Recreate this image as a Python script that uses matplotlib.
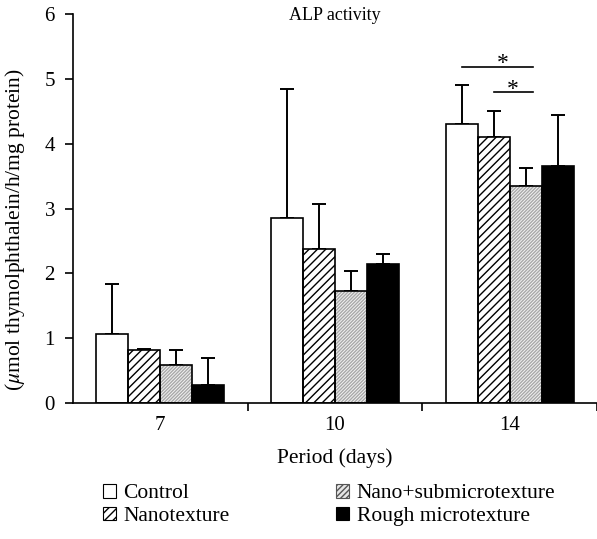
import numpy as np
import matplotlib
matplotlib.use("Agg")
import matplotlib.pyplot as plt
from matplotlib.patches import Patch

plt.rcParams['font.family'] = ['Liberation Serif', 'DejaVu Serif']
plt.rcParams['mathtext.fontset'] = 'stix'
plt.rcParams['hatch.linewidth'] = 1.0

periods = ['7', '10', '14']
groups = ['Control', 'Nanotexture', 'Nano+submicrotexture', 'Rough microtexture']

# mean values per group, one entry per period
control = [1.07, 2.86, 4.31]
nano = [0.82, 2.37, 4.11]
nanosub = [0.58, 1.73, 3.35]
rough = [0.28, 2.14, 3.66]

# upper error bar length
control_err = [0.76, 1.98, 0.60]
nano_err = [0.02, 0.70, 0.40]
nanosub_err = [0.24, 0.31, 0.28]
rough_err = [0.41, 0.16, 0.78]

# significance brackets: (period index, first bar, last bar, height)
sig = [(2, 0, 2, 5.19), (2, 1, 2, 4.79)]

means = [control, nano, nanosub, rough]
errs = [control_err, nano_err, nanosub_err, rough_err]
faces = ['white', 'white', '#f2f2f2', 'black']
hatches = [None, '////', '//////////', None]
hatch_cols = ['black', 'black', '#a8a8a8', 'black']

fig = plt.figure(figsize=(5.97, 5.39), dpi=100)
ax = fig.add_axes([73 / 597, 1 - 403 / 539, 524 / 597, 389 / 539])

x = np.arange(len(periods))
w = 0.183
offsets = (np.arange(4) - 1.5) * w

for i in range(4):
    m = np.array(means[i])
    e = np.array(errs[i])
    ax.errorbar(x + offsets[i], m, yerr=[np.zeros_like(e), e], fmt='none',
                ecolor='black', elinewidth=1.4, capsize=5, capthick=1.4, zorder=1)
    ax.bar(x + offsets[i], m, w, color=faces[i], edgecolor=hatch_cols[i],
           hatch=hatches[i], linewidth=0, zorder=2)
    # outline drawn separately so hatch colour can differ
    ax.bar(x + offsets[i], m, w, fill=False, edgecolor='black', linewidth=1.2, zorder=3)

for p, a, b, h in sig:
    x0 = x[p] + offsets[a]
    x1 = x[p] + offsets[b] + 0.04
    ax.plot([x0, x1], [h, h], color='black', lw=1.2)
    ax.text((x0 + x1) / 2 + (0.03 if a == 0 else 0.0), h - 0.12, '*',
            ha='center', va='bottom', fontsize=17)

ax.set_xlim(-0.5, 2.5)
ax.set_ylim(0, 6)
ax.set_yticks(range(7))
ax.set_xticks(x)
ax.set_xticklabels(periods)
ax.set_xticks([0.5, 1.5, 2.5], minor=True)
ax.tick_params(axis='x', which='major', length=0, labelsize=15, pad=9)
ax.tick_params(axis='x', which='minor', length=6, width=1.2, direction='out')
ax.tick_params(axis='y', length=6, width=1.2, direction='out', labelsize=15, pad=7)
for s in ['top', 'right']:
    ax.spines[s].set_visible(False)
for s in ['left', 'bottom']:
    ax.spines[s].set_linewidth(1.2)

ax.text(0.5, 0.995, 'ALP activity', transform=ax.transAxes, ha='center', va='center',
        fontsize=13)
ax.set_xlabel('Period (days)', fontsize=15.5, labelpad=10)
ax.set_ylabel(r'($\mu$mol thymolphthalein/h/mg protein)', fontsize=15.5)
ax.yaxis.set_label_coords(-0.088, 0.445)

handles = [Patch(facecolor=faces[i], edgecolor='black', hatch=hatches[i],
                 linewidth=0.8, label=groups[i]) for i in range(4)]
handles[2] = Patch(facecolor='#e6e6e6', edgecolor='#555555', hatch='//////',
                   linewidth=0.8, label=groups[2])
fig.legend(handles=handles, ncol=2, loc='upper left', bbox_to_anchor=(0.14, 0.138),
           frameon=False, fontsize=15.5, handlelength=0.6, handleheight=0.6,
           handletextpad=0.35, columnspacing=4.95, labelspacing=0.15)

fig.savefig('out.png', dpi=100)
